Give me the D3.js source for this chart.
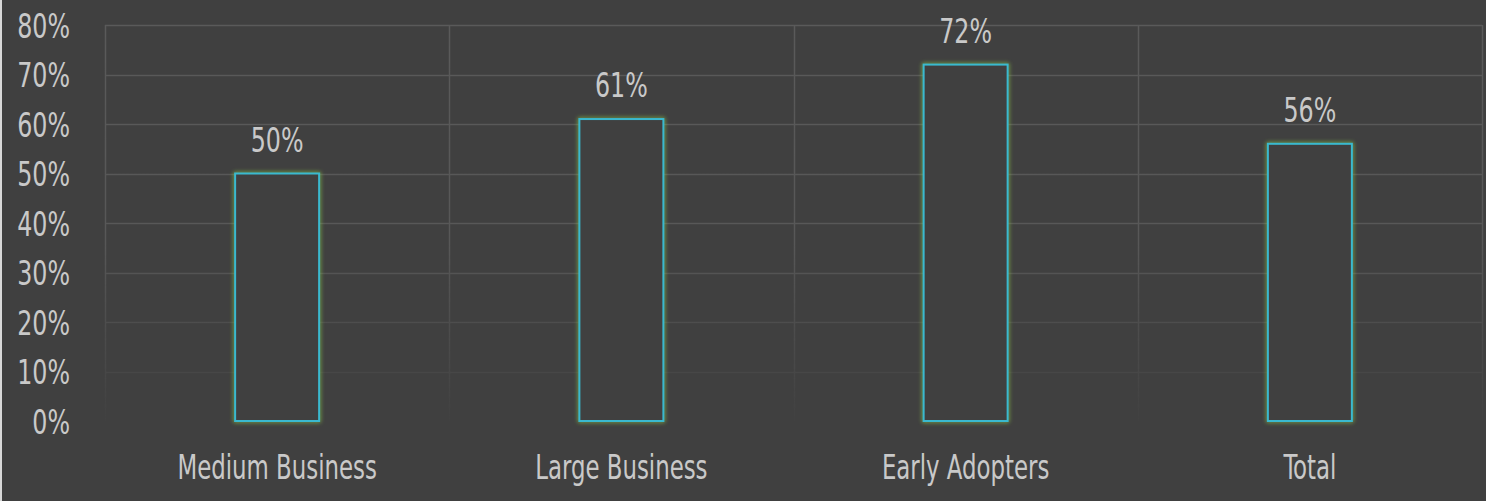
<!DOCTYPE html>
<html><head><meta charset="utf-8">
<script src="https://cdn.jsdelivr.net/npm/d3@7"></script>
<style>
html,body{margin:0;padding:0;background:#404040;}
svg{display:block;}
text{font-family:"DejaVu Sans Condensed","DejaVu Sans",sans-serif;fill:#c9c9c9;}
</style></head><body>
<svg id="c" width="1486" height="501"></svg>
<script>
const categories = ["Medium Business","Large Business","Early Adopters","Total"];
const values = [50,61,72,56];
const tickValues = [0,10,20,30,40,50,60,70,80];
const tickLabels = ["0%","10%","20%","30%","40%","50%","60%","70%","80%"];

const W=1486,H=501;
const m={left:105,right:4,top:25,bottom:80};
const FS=33;
const svg=d3.select("#c");
svg.append("rect").attr("width",W).attr("height",H).attr("fill","#404040");
svg.append("rect").attr("x",0).attr("y",0).attr("width",2).attr("height",H).attr("fill","#d8d8d8");

const x=d3.scaleBand().domain(categories).range([m.left,W-m.right]).paddingInner(0).paddingOuter(0);
const y=d3.scaleLinear().domain([0,80]).range([H-m.bottom,m.top]);

const defs=svg.append("defs");
const lg=defs.append("linearGradient").attr("id","fade").attr("gradientUnits","userSpaceOnUse")
  .attr("x1",0).attr("y1",y(80)).attr("x2",0).attr("y2",y(0));
lg.append("stop").attr("offset","0").attr("stop-color","#fff").attr("stop-opacity",1);
lg.append("stop").attr("offset","0.55").attr("stop-color","#fff").attr("stop-opacity",0.9);
lg.append("stop").attr("offset","1").attr("stop-color","#fff").attr("stop-opacity",0.05);
const mask=defs.append("mask").attr("id","gm").attr("maskUnits","userSpaceOnUse")
  .attr("x",0).attr("y",0).attr("width",W).attr("height",H);
mask.append("rect").attr("x",0).attr("y",0).attr("width",W).attr("height",H).attr("fill","url(#fade)");
const blur=defs.append("filter").attr("id","glow").attr("x","-30%").attr("y","-30%").attr("width","160%").attr("height","160%");
blur.append("feGaussianBlur").attr("stdDeviation",2);

// condensed text helper: move position into a transform with horizontal squeeze
function squeeze(sel,sx){
  sel.each(function(){
    const t=d3.select(this);
    const px=+t.attr("x")||0, py=+t.attr("y")||0;
    t.attr("x",0).attr("y",0).attr("transform",`translate(${px},${py}) scale(${sx},1)`);
  });
}

// grid
const grid=svg.append("g").attr("mask","url(#gm)");
grid.selectAll("line.h").data(tickValues.filter(d=>d>0)).join("line")
  .attr("x1",m.left).attr("x2",W-m.right).attr("y1",d=>Math.round(y(d))+0.5).attr("y2",d=>Math.round(y(d))+0.5)
  .attr("stroke","#5a5a5a").attr("stroke-width",1.5);
const bounds=categories.map(c=>x(c)).concat([x(categories[categories.length-1])+x.bandwidth()]);
grid.selectAll("line.v").data(bounds).join("line")
  .attr("x1",d=>Math.round(d)+0.5).attr("x2",d=>Math.round(d)+0.5).attr("y1",y(80)).attr("y2",y(0))
  .attr("stroke","#5a5a5a").attr("stroke-width",1.5);

// y axis labels
const yAxis=d3.axisLeft(y).tickValues(tickValues).tickFormat((d,i)=>tickLabels[i]).tickSize(0).tickPadding(0);
const ya=svg.append("g").attr("transform","translate(70,0)").call(yAxis);
ya.select(".domain").remove();
ya.selectAll("text").attr("font-size",FS).style("fill","#c9c9c9").attr("dy",null).attr("y",12);
squeeze(ya.selectAll("text"),0.8);

// x axis labels
const xAxis=d3.axisBottom(x).tickSize(0).tickPadding(0);
const xa=svg.append("g").attr("transform",`translate(0,${y(0)+58})`).call(xAxis);
xa.select(".domain").remove();
xa.selectAll("text").attr("font-size",FS).style("fill","#c9c9c9").attr("dy",null).attr("y",0);
squeeze(xa.selectAll("text"),0.77);

// bars
const bw=84;
const bars=svg.append("g");
bars.selectAll("rect.g").data(values).join("rect")
  .attr("x",(d,i)=>x(categories[i])+x.bandwidth()/2-bw/2).attr("y",d=>y(d))
  .attr("width",bw).attr("height",d=>y(0)-y(d))
  .attr("fill","none").attr("stroke","#8cc84a").attr("stroke-width",3).attr("opacity",0.8).attr("filter","url(#glow)");
bars.selectAll("rect.b").data(values).join("rect")
  .attr("x",(d,i)=>x(categories[i])+x.bandwidth()/2-bw/2).attr("y",d=>y(d))
  .attr("width",bw).attr("height",d=>y(0)-y(d))
  .attr("fill","#404040").attr("stroke","#3ab9cf").attr("stroke-width",2);

// value labels
const vl=svg.append("g").selectAll("text").data(values).join("text")
  .attr("x",(d,i)=>x(categories[i])+x.bandwidth()/2).attr("y",d=>y(d)-22)
  .attr("text-anchor","middle").attr("font-size",FS).text(d=>d+"%");
squeeze(vl,0.8);
</script>
</body></html>
